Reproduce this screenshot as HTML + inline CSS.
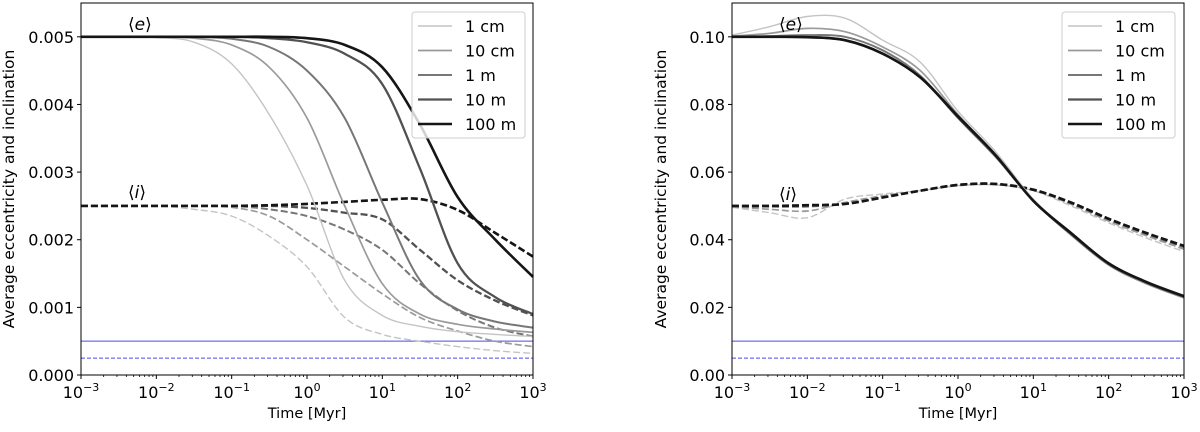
<!DOCTYPE html>
<html><head><meta charset="utf-8"><style>
body{margin:0;background:#fff;}
svg text{font-family:"DejaVu Sans","Liberation Sans",sans-serif;fill:#000;}
</style></head><body>
<svg id="fig" width="1200" height="427" viewBox="0 0 1200 427" xmlns="http://www.w3.org/2000/svg"></svg>
<script>
const logT = [-3,-2.5,-2,-1.5,-1,-0.5,0,0.5,1,1.5,2,2.5,3];
const sizes = ["1 cm","10 cm","1 m","10 m","100 m"];
// left panel (units 1e-3)
const leftE = [
 [5,5,4.99,4.92,4.6,3.85,2.8,1.4,0.88,0.72,0.64,0.6,0.57],
 [5,5,5,4.98,4.88,4.55,3.8,2.5,1.35,0.9,0.75,0.68,0.63],
 [5,5,5,5,4.97,4.85,4.5,3.8,2.55,1.4,0.97,0.79,0.7],
 [5,5,5,5,5,4.98,4.92,4.75,4.3,3.05,1.65,1.15,0.9],
 [5,5,5,5,5,5,4.98,4.88,4.55,3.7,2.63,2.0,1.45]];
const leftI = [
 [2.5,2.5,2.5,2.45,2.35,2.05,1.6,0.85,0.6,0.5,0.42,0.36,0.32],
 [2.5,2.5,2.5,2.5,2.48,2.35,2.0,1.6,1.2,0.85,0.65,0.5,0.42],
 [2.5,2.5,2.5,2.5,2.5,2.45,2.35,2.15,1.85,1.35,0.95,0.7,0.57],
 [2.5,2.5,2.5,2.5,2.5,2.5,2.47,2.4,2.3,1.85,1.4,1.1,0.88],
 [2.5,2.5,2.5,2.5,2.5,2.51,2.53,2.56,2.59,2.6,2.44,2.1,1.75]];
// right panel (units 1e-2)
const rightE = [
 [10.05,10.3,10.6,10.55,9.9,9.25,7.8,6.6,5.2,4.2,3.25,2.7,2.28],
 [10.02,10.1,10.25,10.15,9.7,9.0,7.7,6.5,5.15,4.15,3.25,2.7,2.28],
 [10,10.02,10.05,10.0,9.6,8.85,7.6,6.45,5.15,4.15,3.27,2.72,2.3],
 [10,10,9.99,9.9,9.5,8.8,7.62,6.48,5.15,4.18,3.3,2.75,2.32],
 [10,10,9.99,9.9,9.5,8.8,7.65,6.5,5.15,4.2,3.3,2.75,2.33]];
const rightI = [
 [4.96,4.8,4.65,5.2,5.35,5.45,5.6,5.62,5.45,5.0,4.5,4.05,3.65],
 [4.98,4.9,4.85,5.1,5.3,5.45,5.6,5.63,5.46,5.05,4.55,4.12,3.72],
 [5,4.98,4.98,5.06,5.25,5.45,5.62,5.64,5.47,5.08,4.6,4.17,3.78],
 [5,5,5.01,5.06,5.25,5.45,5.62,5.65,5.48,5.1,4.62,4.2,3.8],
 [5.0,5.0,5.02,5.06,5.25,5.45,5.62,5.65,5.48,5.1,4.62,4.2,3.82]];
const leftYTicks = ["0.000","0.001","0.002","0.003","0.004","0.005"];
const rightYTicks = ["0.00","0.02","0.04","0.06","0.08","0.10"];
const leftRef = [0.5,0.25];
const rightRef = [1.0,0.5];
const colors=["#c4c4c4","#9a9a9a","#777777","#515151","#151515"];
const widths=[1.4,1.7,2.0,2.3,2.6];
const NS="http://www.w3.org/2000/svg";
const svg=document.getElementById('fig');
function mk(tag,attrs,parent){const e=document.createElementNS(NS,tag);for(const k in attrs)e.setAttribute(k,attrs[k]);(parent||svg).appendChild(e);return e;}
function smooth(pts){let d='M'+pts[0][0].toFixed(1)+','+pts[0][1].toFixed(1);
 for(let i=0;i<pts.length-1;i++){const p0=pts[i-1]||pts[i],p1=pts[i],p2=pts[i+1],p3=pts[i+2]||p2;
  const c1=[p1[0]+(p2[0]-p0[0])/6,p1[1]+(p2[1]-p0[1])/6],c2=[p2[0]-(p3[0]-p1[0])/6,p2[1]-(p3[1]-p1[1])/6];
  d+=' C'+c1[0].toFixed(1)+','+c1[1].toFixed(1)+' '+c2[0].toFixed(1)+','+c2[1].toFixed(1)+' '+p2[0].toFixed(1)+','+p2[1].toFixed(1);}
 return d;}
function panel(o){
 const g=mk('g',{});
 
 
 const X=v=>o.x0+(v+3)/6*(o.x1-o.x0);
 const Y=v=>o.yb-(v/o.ymax)*(o.yb-o.yt);
 o.ref.forEach((r,k)=>{const l=mk('line',{x1:o.x0,x2:o.x1,y1:Y(r),y2:Y(r),stroke:'#4a4af0','stroke-width':1,'stroke-dasharray':k?'4,2':''},g);
  
  });
 function series(arr,dash,nm){arr.forEach((s,k)=>{const pts=s.map((v,j)=>[X(logT[j]),Y(v)]);
  const pl=mk('path',{d:smooth(pts),fill:'none',stroke:colors[k],'stroke-width':widths[k],'stroke-dasharray':dash?'7,3':'','stroke-linejoin':'round'},g);
  
  });}
 series(o.i,true,'inclination-line');
 series(o.e,false,'eccentricity-line');
 const fr=mk('rect',{x:o.x0,y:o.yt,width:o.x1-o.x0,height:o.yb-o.yt,fill:'none',stroke:'#000','stroke-width':1},g);
 
 
 o.yt_labels.forEach((t,k)=>{const yy=Y(k*o.ystep);mk('line',{x1:o.x0-4,x2:o.x0,y1:yy,y2:yy,stroke:'#000'},g);
  const tx=mk('text',{x:o.x0-7,y:yy+6,'text-anchor':'end','font-size':16},g);tx.textContent=t;
  
  });
 for(let d=-3;d<=3;d++){const xx=X(d);mk('line',{x1:xx,x2:xx,y1:o.yb,y2:o.yb+4,stroke:'#000'},g);
  const tx=mk('text',{x:xx,y:o.yb+23,'text-anchor':'middle','font-size':16},g);
  tx.innerHTML='10<tspan dy="-7" font-size="11">'+(d<0?'\u2212'+(-d):d)+'</tspan>';
  
  
  if(d<3)for(let m=2;m<10;m++){const mx=X(d+Math.log10(m));mk('line',{x1:mx,x2:mx,y1:o.yb,y2:o.yb+2,stroke:'#000','stroke-width':0.8},g);}}
 const xl=mk('text',{x:(o.x0+o.x1)/2,y:o.yb+43,'text-anchor':'middle','font-size':14.5},g);xl.textContent='Time [Myr]';
 
 
 const cy=(o.yt+o.yb)/2;
 const yl=mk('text',{x:o.ylx,y:cy,'text-anchor':'middle','font-size':15.5,transform:'rotate(-90 '+o.ylx+' '+cy+')'},g);yl.textContent='Average eccentricity and inclination';
 
 
 const le=mk('text',{x:o.lab[0],y:o.lab[1],'font-size':17,'font-family':'Liberation Serif'},g);le.innerHTML='\u27E8<tspan font-style="italic">e</tspan>\u27E9';
 
 
 const li=mk('text',{x:o.lab[0],y:o.lab[2],'font-size':17,'font-family':'Liberation Serif'},g);li.innerHTML='\u27E8<tspan font-style="italic">i</tspan>\u27E9';
 
 
 const lx=o.leg, ly=12;
 const lg=mk('g',{},g);
 
 
 mk('rect',{x:lx,y:ly,width:113,height:126,rx:3,fill:'#fff','fill-opacity':0.8,stroke:'#ccc'},lg);
 sizes.forEach((s,k)=>{const yy=26+k*24.5;
  mk('line',{x1:lx+6,x2:lx+40,y1:yy,y2:yy,stroke:colors[k],'stroke-width':widths[k]},lg);
  const t=mk('text',{x:lx+53,y:yy+6,'font-size':16},lg);t.textContent=s;
  
  });
}
panel({name:'left-panel',x0:81,x1:533,yt:3,yb:375,ymax:5.5,ystep:1,e:leftE,i:leftI,ref:leftRef,yt_labels:leftYTicks,ylx:14,lab:[128,30,198],leg:412});
panel({name:'right-panel',x0:732,x1:1184,yt:3,yb:375,ymax:11,ystep:2,e:rightE,i:rightI,ref:rightRef,yt_labels:rightYTicks,ylx:666,lab:[779,30,200],leg:1062});
</script>
</body></html>
